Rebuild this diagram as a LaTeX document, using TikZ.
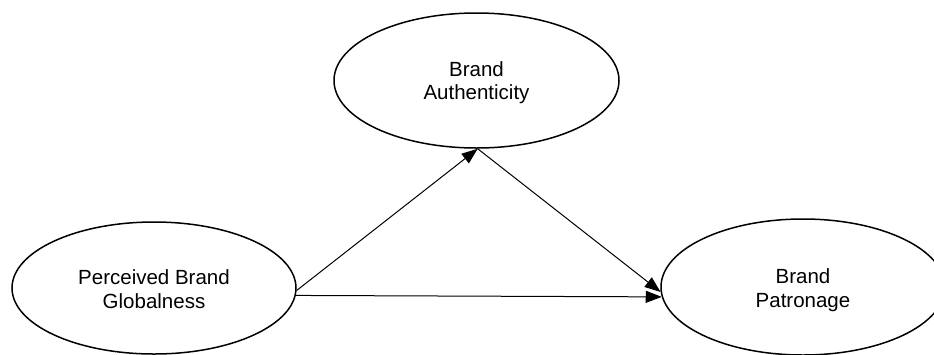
\documentclass[tikz,border=0pt]{standalone}
\usepackage{fontspec}
\setmainfont{Liberation Sans}
\usetikzlibrary{arrows.meta,shapes.geometric}

\tikzset{
  construct/.style={ellipse, draw, line width=1.5pt, inner sep=0pt,
    align=center, font=\fontsize{20.5}{23.5}\selectfont},
  path arrow/.style={line width=1pt,
    -{Triangle[length=16pt,width=12pt]}}
}

\begin{document}
\begin{tikzpicture}[x=1pt,y=-1pt]
  \clip (0,0) rectangle (934,354);
  \useasboundingbox (0,0) rectangle (934,354);

  % latent constructs (outlines)
  \node[construct, minimum width=285pt, minimum height=135pt] (auth) at (476.5,80.5) {};
  \node[construct, minimum width=284pt, minimum height=132pt] (glob) at (154,288) {};
  \node[construct, minimum width=284pt, minimum height=136pt] (patr) at (803,287) {};

  % construct labels
  \node[construct, draw=none, anchor=center] (authlbl) at ([yshift=-2pt]auth.center)
    {Brand\\Authenticity};
  \node[construct, draw=none, anchor=center] (globlbl) at ([yshift=-1pt]glob.center)
    {Perceived Brand\\Globalness};
  \node[construct, draw=none, anchor=center] (patrlbl) at ([yshift=-3pt]patr.center)
    {Brand\\Patronage};

  % structural paths
  \draw[path arrow] (glob.-1) -- (auth.-89.5);
  \draw[path arrow] (auth.-89.5) -- (patr.182);
  \draw[path arrow] (glob.-3.66) -- (patr.184.07);
\end{tikzpicture}
\end{document}
